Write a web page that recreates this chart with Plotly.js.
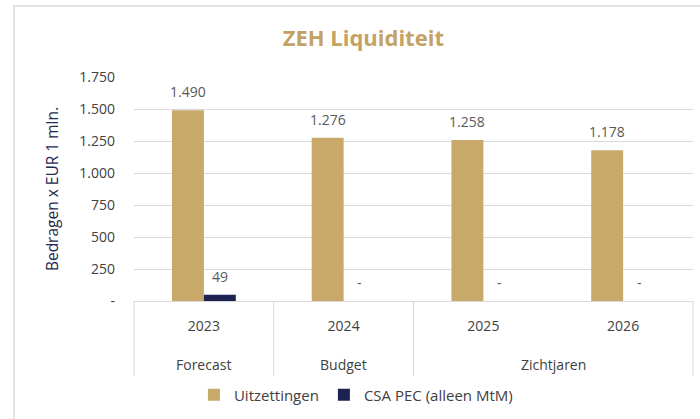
<!DOCTYPE html>
<html>
<head>
<meta charset="utf-8">
<script src="https://cdn.plot.ly/plotly-3.0.1.min.js"></script>
<style>
  html, body { margin: 0; padding: 0; background: #fff; }
  #frame { position: absolute; left: 13px; top: 5px; width: 800px; height: 500px;
           border-top: 2px solid #e3e3e3; border-left: 2px solid #e3e3e3; }
  #chart { position: absolute; left: 0; top: 0; width: 700px; height: 419px; }
</style>
</head>
<body>
<div id="frame"></div>
<div id="chart"></div>
<script>
// ---- data ----
const years = ["2023", "2024", "2025", "2026"];
const phases = ["Forecast", "Budget", "Zichtjaren", "Zichtjaren"];
const uitzettingen = [1490, 1276, 1258, 1178];
const csaPec = [49, 0, 0, 0];
const seriesNames = ["Uitzettingen", "CSA PEC (alleen MtM)"];
const yTickVals = [0, 250, 500, 750, 1000, 1250, 1500, 1750];
const yTickText = ["-", "250", "500", "750", "1.000", "1.250", "1.500", "1.750"];

const GOLD = "#c8a96a";
const NAVY = "#1c2352";
const TXT = "#404040";
const GRID = "#d9d9d9";
const FONT = "Open Sans, sans-serif";

function fmt(v) {
  if (v === 0) return "-";
  return String(v).replace(/\B(?=(\d{3})+(?!\d))/g, ".");
}

// group the phases into runs: [{name, start, end}]
const groups = [];
phases.forEach((p, i) => {
  const g = groups[groups.length - 1];
  if (g && g.name === p) g.end = i; else groups.push({ name: p, start: i, end: i });
});

const traces = [
  { type: "bar", name: seriesNames[0], x: years, y: uitzettingen,
    marker: { color: GOLD }, hoverinfo: "skip" },
  { type: "bar", name: seriesNames[1], x: years, y: csaPec,
    marker: { color: NAVY }, hoverinfo: "skip" },
  // invisible helper trace so the numeric overlay axis exists
  { type: "scatter", mode: "markers", x: [0], y: [0], xaxis: "x2", yaxis: "y",
    marker: { opacity: 0 }, showlegend: false, hoverinfo: "skip" }
];

const off = 0.1143;
const labelFont = { family: FONT, size: 14, color: "#595959" };
const annotations = [];
uitzettingen.forEach((v, i) => annotations.push({
  xref: "x2", yref: "y", x: i - off, y: v, text: fmt(v), showarrow: false,
  yanchor: "bottom", yshift: 7, font: labelFont
}));
csaPec.forEach((v, i) => annotations.push({
  xref: "x2", yref: "y", x: i + off, y: v, text: fmt(v), showarrow: false,
  yanchor: "bottom", yshift: 7, font: labelFont
}));
// phase (second-level) labels
groups.forEach(g => annotations.push({
  xref: "x2", yref: "paper", x: (g.start + g.end) / 2, y: -0.2857, yanchor: "middle",
  text: g.name, showarrow: false, font: { family: FONT, size: 14, color: TXT }
}));

// dividers at group boundaries
const n = years.length;
const bounds = [groups[0].start - 0.5].concat(groups.map(g => g.end + 0.5));
const shapes = bounds.map(b => ({
  type: "line", xref: "paper", yref: "paper",
  x0: (b + 0.5) / n, x1: (b + 0.5) / n, y0: 0, y1: -0.335,
  line: { color: GRID, width: 1 }
}));

const layout = {
  width: 700, height: 419,
  margin: { l: 134, r: 7, t: 77, b: 118 },
  paper_bgcolor: "rgba(0,0,0,0)", plot_bgcolor: "rgba(0,0,0,0)",
  font: { family: FONT, color: TXT, size: 14 },
  title: { text: "<b>ZEH Liquiditeit</b>", font: { family: FONT, size: 22, color: "#c3a263" },
           xref: "container", x: 0.519, yref: "container", y: 0.909, yanchor: "middle" },
  barmode: "group", bargap: 0.543, bargroupgap: 0,
  xaxis: {
    type: "category", showline: true, linecolor: GRID, linewidth: 1,
    ticklabelstandoff: 12,
    tickfont: { family: FONT, size: 14, color: TXT }, ticks: "", showgrid: false
  },
  xaxis2: { overlaying: "x", range: [-0.5, 3.5], visible: false, fixedrange: true },
  yaxis: {
    range: [0, 1750], tickvals: yTickVals, ticktext: yTickText,
    showgrid: true, gridcolor: GRID, gridwidth: 1, zeroline: false, showline: false,
    ticks: "", ticklabelstandoff: 18,
    tickfont: { family: FONT, size: 14, color: TXT },
    title: { text: "Bedragen x EUR 1 mln.", standoff: 16,
             font: { family: FONT, size: 15.5, color: "#1f2a50" } }
  },
  legend: { orientation: "h", x: 0.397, xanchor: "center", y: -0.42, yanchor: "middle",
            font: { family: FONT, size: 15, color: TXT }, itemwidth: 30, traceorder: "normal" },
  annotations: annotations,
  shapes: shapes,
  showlegend: true
};

Plotly.newPlot("chart", traces, layout, { displayModeBar: false, staticPlot: true });
</script>
</body>
</html>
